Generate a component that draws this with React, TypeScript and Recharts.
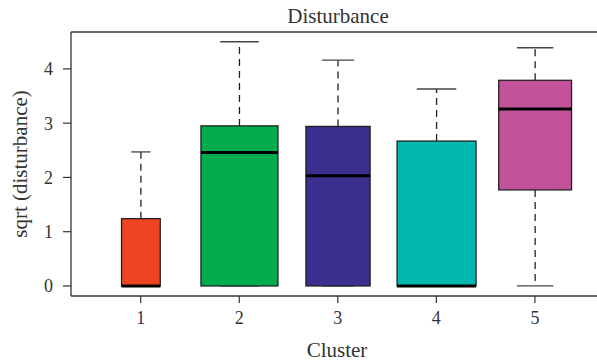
import React from 'react';
import { ComposedChart, Bar, XAxis, YAxis, ReferenceLine, Label } from 'recharts';

// box plot statistics per cluster
const clusters = [1, 2, 3, 4, 5];
const lowerWhisker = [0, 0, 0, 0, 0];
const lowerQuartile = [0, 0, 0, 0, 1.77];
const medians = [0, 2.46, 2.03, 0, 3.26];
const upperQuartile = [1.24, 2.95, 2.94, 2.67, 3.79];
const upperWhisker = [2.47, 4.5, 4.16, 3.63, 4.39];
// group sizes (box widths are proportional to sqrt(n), varwidth style)
const clusterSizes = [24, 95, 66, 100, 85];
const yTicks = [0, 1, 2, 3, 4];

const boxColors = ['#EF4424', '#03AC4D', '#3A2F8E', '#00B8AF', '#C2539B'];
const axisColor = '#333';
const font = '"Liberation Serif", "Times New Roman", serif';

const yDomain: [number, number] = [-0.185, 4.68];
const xDomain: [number, number] = [0.293, 5.63];
const maxN = Math.max(...clusterSizes);

const data = clusters.map((c, i) => ({
  cluster: c,
  min: lowerWhisker[i],
  q1: lowerQuartile[i],
  median: medians[i],
  q3: upperQuartile[i],
  max: upperWhisker[i],
  n: clusterSizes[i],
}));

const BoxShape = (props: any) => {
  const { x, y, width, height, payload, index } = props;
  const top = Math.min(y, y + height);
  const bottom = Math.max(y, y + height);
  const span = payload.max - payload.min;
  if (!span) return null;
  const unit = (bottom - top) / span;
  const toY = (v: number) => bottom - (v - payload.min) * unit;

  const cx = x + width / 2;
  const w = width * Math.sqrt(payload.n / maxN);
  const cap = w / 2;
  const yq1 = toY(payload.q1);
  const yq3 = toY(payload.q3);
  const ymed = toY(payload.median);
  const ymin = toY(payload.min);
  const ymax = toY(payload.max);

  return (
    <g>
      {/* whiskers */}
      <line x1={cx} x2={cx} y1={yq3} y2={ymax} stroke="#222" strokeWidth={1.3} strokeDasharray="7 5" />
      <line x1={cx} x2={cx} y1={yq1} y2={ymin} stroke="#222" strokeWidth={1.3} strokeDasharray="7 5" />
      <line x1={cx - cap / 2} x2={cx + cap / 2} y1={ymax} y2={ymax} stroke="#444" strokeWidth={1.3} />
      <line x1={cx - cap / 2} x2={cx + cap / 2} y1={ymin} y2={ymin} stroke="#444" strokeWidth={1.3} />
      {/* box */}
      <rect
        x={cx - w / 2}
        y={yq3}
        width={w}
        height={yq1 - yq3}
        fill={boxColors[index]}
        stroke="#222"
        strokeWidth={1.3}
      />
      {/* median */}
      <line x1={cx - w / 2} x2={cx + w / 2} y1={ymed} y2={ymed} stroke="#000" strokeWidth={3} />
    </g>
  );
};

const App = () => {
  return (
    <div style={{ position: 'absolute', left: 0, top: 0, width: 597, height: 363, background: '#fff' }}>
      <ComposedChart
        width={597}
        height={363}
        data={data}
        margin={{ top: 32, right: 0, bottom: 0, left: 0 }}
      >
        <XAxis
          type="number"
          dataKey="cluster"
          domain={xDomain}
          allowDataOverflow
          ticks={clusters}
          height={67}
          tickSize={7}
          tickMargin={8}
          axisLine={{ stroke: axisColor, strokeWidth: 1.3 }}
          tickLine={{ stroke: axisColor, strokeWidth: 1.2 }}
          tick={{ fontFamily: font, fontSize: 18, fill: axisColor }}
        >
          <Label value="Cluster" position="insideBottom" offset={6} dx={3} fontFamily={font} fontSize={21} fill={axisColor} />
        </XAxis>
        <YAxis
          type="number"
          domain={yDomain}
          allowDataOverflow
          ticks={yTicks}
          width={71}
          tickSize={8}
          tickMargin={10}
          axisLine={{ stroke: axisColor, strokeWidth: 1.3 }}
          tickLine={{ stroke: axisColor, strokeWidth: 1.2 }}
          tick={{ fontFamily: font, fontSize: 18, fill: axisColor }}
        >
          <Label
            value="sqrt (disturbance)"
            angle={-90}
            position="insideLeft"
            offset={20}
            style={{ textAnchor: 'middle' }}
            fontFamily={font}
            fontSize={21}
            fill={axisColor}
          />
        </YAxis>
        <ReferenceLine y={yDomain[1]} stroke={axisColor} strokeWidth={1.3}>
          <Label value="Disturbance" position="top" offset={9} dx={4} fontFamily={font} fontSize={21} fill={axisColor} />
        </ReferenceLine>
        <Bar
          dataKey={(d: any) => [d.min, d.max]}
          barSize={79}
          shape={<BoxShape />}
          isAnimationActive={false}
        />
      </ComposedChart>
    </div>
  );
};

export default App;
